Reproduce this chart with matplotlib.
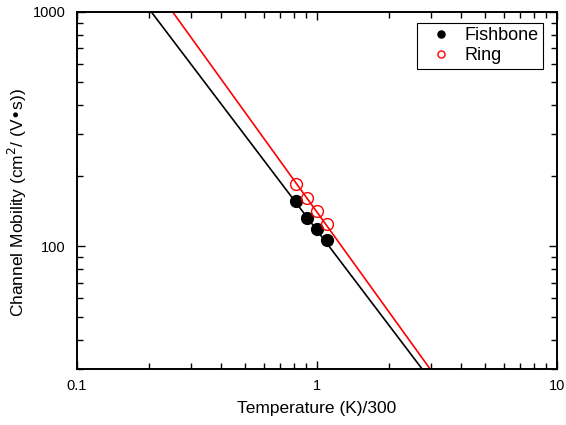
import numpy as np
import matplotlib
matplotlib.use("Agg")
import matplotlib.pyplot as plt
from matplotlib.ticker import LogLocator, NullFormatter, FixedLocator, FixedFormatter

# Measured mobility vs normalised temperature
temp_norm = [0.82, 0.91, 1.0, 1.1]
mob_fishbone = [156, 132, 118, 106]
mob_ring = [185, 160, 141, 124]

# Power-law fits: mobility = coef * (T/300)^exp
fish_coef, fish_exp = 117.0, -1.35
ring_coef, ring_exp = 140.0, -1.42

plt.rcParams['font.family'] = ['Liberation Sans', 'DejaVu Sans']


def main():
    fig = plt.figure(figsize=(5.66, 4.25), dpi=100)
    ax = fig.add_axes([0.136, 0.132, 0.848, 0.840])

    xfit = np.logspace(-1, 1, 200)
    ax.plot(xfit, fish_coef * xfit ** fish_exp, color='black', lw=1.2,
            zorder=2)
    ax.plot(xfit, ring_coef * xfit ** ring_exp, color='red', lw=1.2,
            zorder=2)

    ax.plot(temp_norm, mob_fishbone, 'o', color='black', ms=8.5,
            label='Fishbone', zorder=3)
    ax.plot(temp_norm, mob_ring, 'o', mfc='none', mec='red', mew=1.0,
            ms=8.5, label='Ring', zorder=3)

    ax.set_xscale('log')
    ax.set_yscale('log')
    ax.set_xlim(0.1, 10)
    ax.set_ylim(30, 1000)

    ax.xaxis.set_major_locator(FixedLocator([0.1, 1, 10]))
    ax.xaxis.set_major_formatter(FixedFormatter(['0.1', '1', '10']))
    ax.xaxis.set_minor_locator(LogLocator(base=10, subs=np.arange(2, 10)))
    ax.xaxis.set_minor_formatter(NullFormatter())
    ax.yaxis.set_major_locator(FixedLocator([100, 1000]))
    ax.yaxis.set_major_formatter(FixedFormatter(['100', '1000']))
    ax.yaxis.set_minor_locator(LogLocator(base=10, subs=np.arange(2, 10)))
    ax.yaxis.set_minor_formatter(NullFormatter())

    ax.tick_params(which='both', direction='in', top=True, right=True,
                   labelsize=10.5, width=1.0)
    ax.tick_params(which='major', length=6)
    ax.tick_params(axis='x', which='major', pad=7)
    ax.tick_params(axis='y', which='major', pad=8)
    ax.tick_params(which='minor', length=4)
    for sp in ax.spines.values():
        sp.set_linewidth(1.4)

    ax.set_xlabel('Temperature (K)/300', fontsize=12.5, labelpad=6)
    ax.set_ylabel('Channel Mobility (cm$^2$/ (V\u2022s))', fontsize=12.5)
    ax.yaxis.set_label_coords(-0.10, 0.465)

    leg = ax.legend(loc='upper right', bbox_to_anchor=(0.971, 0.969),
                    fontsize=13, markerscale=0.6, fancybox=False,
                    framealpha=1, edgecolor='black', handlelength=2.1,
                    handletextpad=0.25, borderpad=0.25, labelspacing=0.15,
                    borderaxespad=0)
    leg.get_frame().set_linewidth(0.8)

    fig.savefig('out.png', dpi=100)


if __name__ == '__main__':
    main()
